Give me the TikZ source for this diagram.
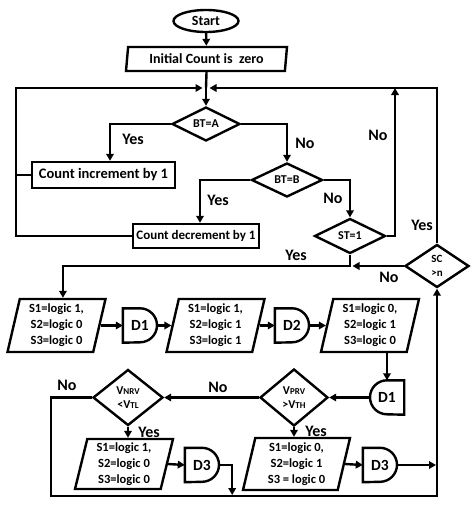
\documentclass[tikz,border=0pt]{standalone}
\usepackage{fontspec}
\setmainfont{Carlito}
\usetikzlibrary{shapes.geometric,arrows.meta,calc}
\newcommand{\subsm}[1]{{\fontsize{9}{10}\selectfont #1}}
\begin{document}
\begin{tikzpicture}[x=1pt,y=-1pt,
  lw/.style={line width=2.4pt},
  arr/.style={lw,-{Triangle[length=7pt,width=7.5pt]}},
  conn/.style={lw},
  txt/.style={font=\bfseries\fontsize{12.5}{16}\selectfont},
  lbl/.style={font=\bfseries\fontsize{16}{17}\selectfont, inner sep=0pt},
  boxnode/.style={draw,lw,rectangle,inner sep=0pt,txt},
  para/.style={draw,lw,trapezium,trapezium left angle=74,trapezium right angle=106,
     trapezium stretches body,inner sep=0pt,align=center,txt},
  dia/.style={draw,lw,diamond,inner sep=0pt,align=center,font=\bfseries\fontsize{12}{14}\selectfont},
  delay/.style={inner sep=0pt,minimum width=34pt,minimum height=34pt,font=\bfseries\fontsize{15.5}{17}\selectfont},
]
\useasboundingbox (0,0) rectangle (474,517);

% ---------- nodes ----------
\node[draw,lw,ellipse,minimum width=65pt,minimum height=22pt,inner sep=0pt,
      font=\bfseries\fontsize{14}{16}\selectfont] (start) at (206,21) {Start};
\node[para,trapezium left angle=78,trapezium right angle=102,minimum width=161pt,minimum height=24pt,
      font=\bfseries\fontsize{14}{16}\selectfont] (init) at (206.5,59) {Initial Count is~~zero};
\coordinate (m1) at (206,88);
\coordinate (lc) at (16,88);
\coordinate (up) at (395,88);

\node[dia,minimum width=68pt,minimum height=34pt] (bta) at (206,124) {BT=A};
\node[boxnode,minimum width=143pt,minimum height=26pt,font=\bfseries\fontsize{14.5}{16}\selectfont] (inc) at (103.5,175) {Count increment by 1};
\node[dia,minimum width=71pt,minimum height=34pt] (btb) at (287,180) {BT=B};
\node[boxnode,minimum width=126pt,minimum height=24pt,font=\bfseries\fontsize{13}{16}\selectfont] (dec) at (196,236) {Count decrement by 1};
\node[dia,minimum width=71pt,minimum height=35pt] (st) at (350,236) {ST=1};
\node[dia,minimum width=64pt,minimum height=43pt,font=\bfseries\fontsize{11}{14}\selectfont] (sc) at (437,266) {SC\\>n};
\coordinate (j2) at (st.south |- sc.west);

\node[para,minimum width=98pt,minimum height=53pt] (p1) at (56.5,325.5) {S1=logic 1,\\S2=logic 0\\S3=logic 0};
\node[delay] (d1) at (140,325.5) {D1};
\node[para,minimum width=98pt,minimum height=53pt] (p2) at (215.5,325.5) {S1=logic 1,\\S2=logic 1\\S3=logic 1};
\node[delay] (d2) at (292,325.5) {D2};
\node[para,minimum width=98pt,minimum height=53pt] (p3) at (370,325.5) {S1=logic 0,\\S2=logic 1\\S3=logic 0};

\node[delay] (d1b) at (387,397.5) {D1};
\node[dia,minimum width=68pt,minimum height=57pt] (vprv) at (294,397.5) {V\subsm{PRV}\\>V\subsm{TH}};
\node[dia,minimum width=70pt,minimum height=56pt] (vnrv) at (128,397.5) {V\subsm{NRV}\\<V\subsm{TL}};

\node[para,minimum width=98pt,minimum height=50pt] (p4) at (124,464) {S1=logic 1,\\S2=logic 0\\S3=logic 0};
\node[delay] (d3a) at (202,465) {D3};
\node[para,minimum width=107pt,minimum height=52pt] (p5) at (296.5,464) {S1=logic 0,\\S2=logic 1\\S3 = logic 0};
\node[delay] (d3b) at (380,465) {D3};
\coordinate (bl) at (51,496);
\coordinate (br) at (437,496);

% delay outlines
\draw[lw] (d1.north west) -- (d1.north) arc[start angle=-90,end angle=90,radius=17] -- (d1.south west) -- cycle;
\draw[lw] (d2.north west) -- (d2.north) arc[start angle=-90,end angle=90,radius=17] -- (d2.south west) -- cycle;
\draw[lw] (d3a.north west) -- (d3a.north) arc[start angle=-90,end angle=90,radius=17] -- (d3a.south west) -- cycle;
\draw[lw] (d3b.north west) -- (d3b.north) arc[start angle=-90,end angle=90,radius=17] -- (d3b.south west) -- cycle;
\draw[lw] (d1b.north east) -- (d1b.north) arc[start angle=-90,end angle=-270,radius=17] -- (d1b.south east) -- cycle;

% ---------- connectors ----------
\draw[arr] (start) -- (init);
\draw[conn] (init.south) -- (m1);
\draw[arr] (m1) -- (bta.north);
\draw[arr] (bta.west) -| ([xshift=6.5pt]inc.north);
\draw[arr] (bta.east) -| (btb.north);
\draw[arr] (btb.west) -| ([xshift=4pt]dec.north);
\draw[arr] (btb.east) -| (st.north);
\draw[arr] (st.east) -| (up);
\draw[arr,shorten >=3.5pt] (sc.north) |- (m1);
\draw[arr,shorten >=3.5pt] (dec.west) -| (lc) -- (m1);
\draw[conn] (inc.west) -- (inc.west -| lc);
\draw[arr] (st.south) -- (j2) -| (p1.top side);
\draw[arr,shorten >=2.5pt] (sc.west) -- (j2);

\draw[arr] (p1.right side) -- (d1.west);
\draw[arr] (d1.east) -- (p2.left side);
\draw[arr] (p2.right side) -- (d2.west);
\draw[arr] (d2.east) -- (p3.left side);
\draw[arr] (d1b.north |- p3.bottom side) -- (d1b.north);
\draw[arr] (d1b.west) -- (vprv.east);
\draw[arr] (vprv.west) -- (vnrv.east);
\draw[arr] (vnrv.west) -| (bl) -- (br) -- (sc.south);
\draw[arr] (vnrv.south) -- (vnrv.south |- p4.top side);
\draw[arr] (vprv.south) -- (vprv.south |- p5.top side);
\draw[arr] (p4.right side) -- (d3a.west);
\draw[arr,shorten >=1pt] (d3a.east) -- ++(13,0) coordinate (d3turn) -- (d3turn |- bl);
\draw[arr] (p5.right side) -- (d3b.west);
\draw[arr,shorten >=1pt] (d3b.east) -- (d3b.east -| br);

% ---------- labels ----------
\node[lbl] (l1) at (133,139) {Yes};
\node[lbl] (l2) at (305,143) {No};
\node[lbl] (l3) at (218,200) {Yes};
\node[lbl] (l4) at (333,198) {No};
\node[lbl] (l5) at (378,135) {No};
\node[lbl] (l6) at (422,225) {Yes};
\node[lbl] (l7) at (296,255) {Yes};
\node[lbl] (l8) at (389,277) {No};
\node[lbl] (l9) at (67,385) {No};
\node[lbl] (l10) at (218,387) {No};
\node[lbl] (l11) at (149,432) {Yes};
\node[lbl] (l12) at (316,431) {Yes};
\end{tikzpicture}
\end{document}
